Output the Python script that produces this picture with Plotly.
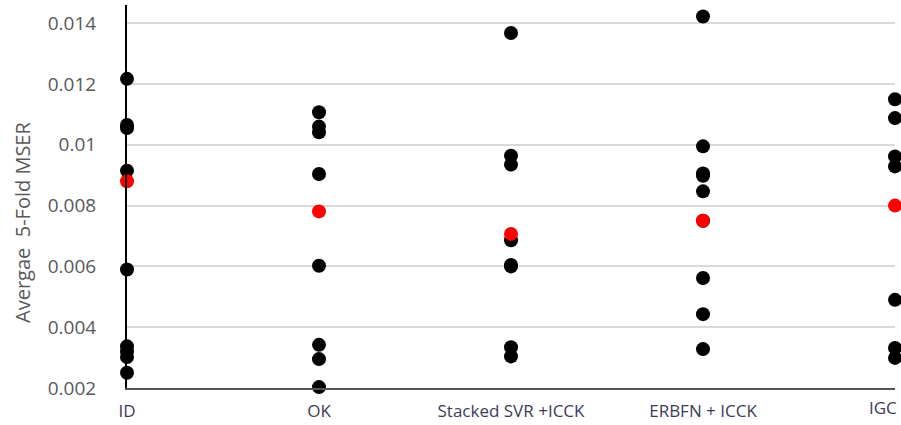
import plotly.graph_objects as go

categories = ["ID", "OK", "Stacked SVR +ICCK", "ERBFN + ICCK", "IGC"]
id_vals = [0.01217, 0.01065, 0.01055, 0.00915, 0.0059, 0.00337, 0.0032, 0.00302, 0.0025]
ok_vals = [0.01107, 0.0106, 0.01041, 0.00904, 0.00602, 0.00342, 0.00295, 0.00203]
svr_vals = [0.01368, 0.00964, 0.00935, 0.00686, 0.00605, 0.0060, 0.00334, 0.00304]
erbfn_vals = [0.01422, 0.00995, 0.00906, 0.00898, 0.00847, 0.0075, 0.00562, 0.00443, 0.00328]
igc_vals = [0.0115, 0.01088, 0.00962, 0.00929, 0.0049, 0.00332, 0.00299]
mean_vals = [0.0088, 0.00781, 0.00707, 0.0075, 0.0080]
y_ticks = [0.002, 0.004, 0.006, 0.008, 0.010, 0.012, 0.014]
y_tick_labels = ["0.002", "0.004", "0.006", "0.008", "0.01", "0.012", "0.014"]
y_title = "Avergae  5-Fold MSER"

series = [id_vals, ok_vals, svr_vals, erbfn_vals, igc_vals]
xs, ys = [], []
for i, vals in enumerate(series):
    xs += [i] * len(vals)
    ys += vals

x_positions = list(range(len(categories)))

fig = go.Figure()
fig.add_trace(go.Scatter(x=xs, y=ys, mode="markers",
                         marker=dict(color="black", size=14),
                         cliponaxis=False, showlegend=False))
fig.add_trace(go.Scatter(x=x_positions, y=mean_vals, mode="markers",
                         marker=dict(color="#ff0000", size=14),
                         cliponaxis=False, showlegend=False))

label_color = "#3c3c58"
fig.update_layout(
    width=901, height=425,
    margin=dict(l=127, r=6, t=5, b=37, autoexpand=False),
    paper_bgcolor="white", plot_bgcolor="white",
    font=dict(family="Open Sans, Liberation Sans, sans-serif", color="#595959"),
    xaxis=dict(
        range=[0, 4], automargin=False,
        tickmode="array", tickvals=x_positions[:-1], ticktext=categories[:-1],
        showgrid=False, zeroline=False,
        showline=True, linecolor="#555555", linewidth=2,
        ticks="", tickfont=dict(size=17, color=label_color),
        ticklabelstandoff=7, ticklabeloverflow="allow",
    ),
    yaxis=dict(
        range=[0.002, 0.0146], automargin=False,
        tickmode="array", tickvals=y_ticks, ticktext=y_tick_labels,
        showgrid=True, gridcolor="#d9d9d9", gridwidth=1.5,
        zeroline=False,
        showline=True, linecolor="black", linewidth=2,
        ticks="", tickfont=dict(size=19, color="#595959"),
        ticklabelstandoff=25, ticklabeloverflow="allow",
    ),
    annotations=[
        dict(text=y_title, textangle=-90, showarrow=False,
             xref="paper", yref="paper", x=-0.137, y=0.433,
             xanchor="center", yanchor="middle",
             font=dict(size=20, color="#595959")),
        dict(text=categories[-1], showarrow=False,
             xref="x", yref="paper", x=x_positions[-1], y=0,
             xanchor="right", yanchor="top", xshift=4, yshift=-6,
             font=dict(size=17, color=label_color)),
    ],
)

fig.write_html("out.html", config={"displayModeBar": False},
               post_script="document.body.style.margin='0';document.body.style.overflow='hidden';")
